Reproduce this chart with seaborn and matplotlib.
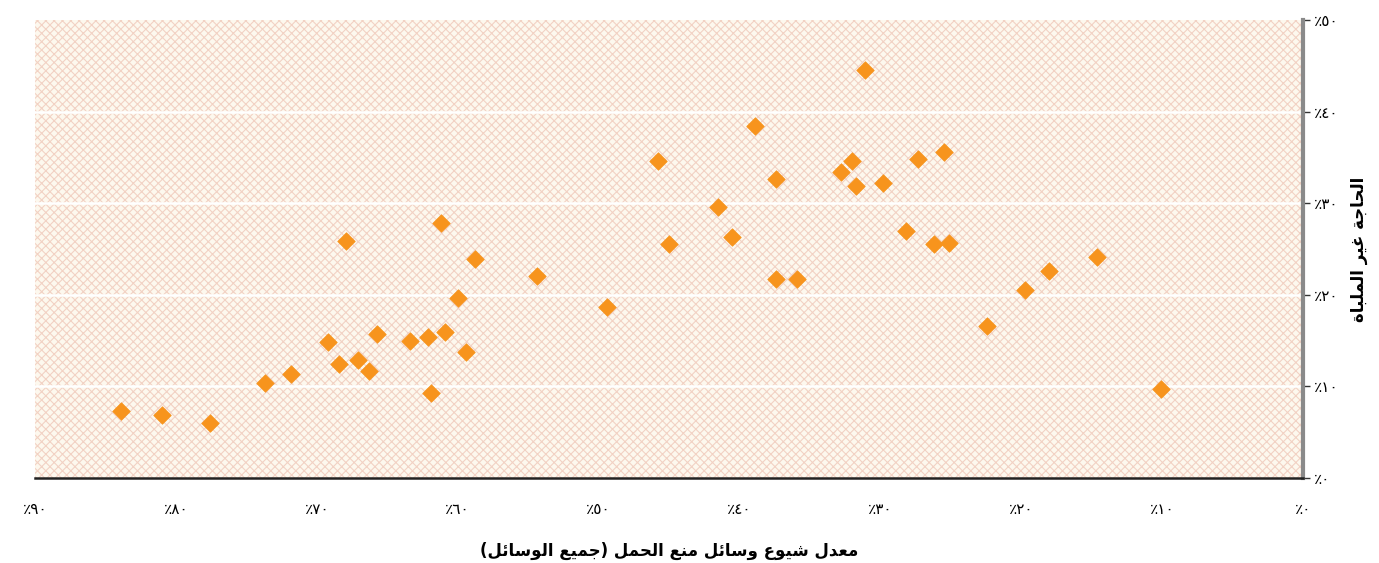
import matplotlib
matplotlib.use("Agg")
import matplotlib.pyplot as plt
import seaborn as sns
import pandas as pd

# contraceptive prevalence (all methods), %
prevalence = [83.9, 81.0, 77.6, 73.7, 71.8, 69.2, 68.4, 67.9, 67.1, 66.3,
              65.7, 63.4, 62.1, 61.9, 61.2, 60.9, 60.0, 59.4, 58.8, 54.4,
              49.4, 45.8, 45.0, 41.5, 40.5, 38.9, 37.4, 37.4, 35.9, 32.8,
              32.0, 31.7, 31.1, 29.8, 28.2, 27.3, 26.2, 25.5, 25.1, 22.4,
              19.7, 18.0, 14.6, 10.1]
# unmet need, %
unmet_need = [7.3, 6.9, 6.0, 10.4, 11.4, 14.8, 12.4, 25.9, 12.9, 11.7,
              15.7, 15.0, 15.4, 9.3, 27.8, 15.9, 19.6, 13.7, 23.9, 22.1,
              18.7, 34.6, 25.5, 29.6, 26.3, 38.4, 32.6, 21.7, 21.7, 33.4,
              34.6, 31.9, 44.5, 32.2, 27.0, 34.8, 25.5, 35.6, 25.7, 16.6,
              20.5, 22.6, 24.1, 9.7]

x_ticks = [90, 80, 70, 60, 50, 40, 30, 20, 10, 0]
y_ticks = [0, 10, 20, 30, 40, 50]

XLABEL = "معدل شيوع وسائل منع الحمل (جميع الوسائل)"
YLABEL = "الحاجة غير الملباة"

# Arabic presentation forms: isolated, final, initial, medial
FORMS = {
    "ا": ("\uFE8D", "\uFE8E"),
    "ب": ("\uFE8F", "\uFE90", "\uFE91", "\uFE92"),
    "ة": ("\uFE93", "\uFE94"),
    "ج": ("\uFE9D", "\uFE9E", "\uFE9F", "\uFEA0"),
    "ح": ("\uFEA1", "\uFEA2", "\uFEA3", "\uFEA4"),
    "د": ("\uFEA9", "\uFEAA"),
    "ر": ("\uFEAD", "\uFEAE"),
    "س": ("\uFEB1", "\uFEB2", "\uFEB3", "\uFEB4"),
    "ش": ("\uFEB5", "\uFEB6", "\uFEB7", "\uFEB8"),
    "ع": ("\uFEC9", "\uFECA", "\uFECB", "\uFECC"),
    "غ": ("\uFECD", "\uFECE", "\uFECF", "\uFED0"),
    "ل": ("\uFEDD", "\uFEDE", "\uFEDF", "\uFEE0"),
    "م": ("\uFEE1", "\uFEE2", "\uFEE3", "\uFEE4"),
    "ن": ("\uFEE5", "\uFEE6", "\uFEE7", "\uFEE8"),
    "و": ("\uFEED", "\uFEEE"),
    "ي": ("\uFEF1", "\uFEF2", "\uFEF3", "\uFEF4"),
    "ئ": ("\uFE89", "\uFE8A", "\uFE8B", "\uFE8C"),
}
MIRROR = {"(": ")", ")": "("}


def shape(text):
    out = []
    for i, ch in enumerate(text):
        if ch not in FORMS:
            out.append(MIRROR.get(ch, ch))
            continue
        prev = text[i - 1] if i > 0 else ""
        nxt = text[i + 1] if i + 1 < len(text) else ""
        f = FORMS[ch]
        j_prev = prev in FORMS and len(FORMS[prev]) == 4
        j_next = len(f) == 4 and nxt in FORMS
        if j_prev and j_next:
            out.append(f[3])
        elif j_prev:
            out.append(f[1])
        elif j_next:
            out.append(f[2])
        else:
            out.append(f[0])
    return "".join(out[::-1])


def ar_pct(v):
    digits = "".join(chr(0x0660 + int(d)) for d in str(v))
    return "\u066A" + digits


df = pd.DataFrame({"prevalence": prevalence, "unmet": unmet_need})

sns.set_style("white")
plt.rcParams["font.family"] = ["DejaVu Sans"]
plt.rcParams["hatch.linewidth"] = 0.8

fig = plt.figure(figsize=(13.79, 5.63), dpi=100)
ax = fig.add_axes([0.0254, 0.151, 0.9195, 0.8135])

ax.patch.set_facecolor("#fdf8ee")
ax.patch.set_edgecolor("#f2d2c4")
ax.patch.set_hatch("xxxx")
ax.patch.set_linewidth(0)

for y in y_ticks[1:-1]:
    ax.axhline(y, color="white", lw=1.8, zorder=1)

sns.scatterplot(data=df, x="prevalence", y="unmet", marker="D", s=80,
                color="#f7941d", edgecolor="#f7941d", linewidth=0.5,
                ax=ax, zorder=3)

ax.set_xlim(90, 0)
ax.set_ylim(0, 50)
ax.set_xticks(x_ticks)
ax.set_xticklabels([ar_pct(v) for v in x_ticks], fontsize=11, color="black")
ax.yaxis.tick_right()
ax.set_yticks(y_ticks)
ax.set_yticklabels([ar_pct(v) for v in y_ticks], fontsize=11, color="black")

ax.tick_params(axis="x", direction="out", length=6, width=1, color="#333333", pad=11)
ax.tick_params(axis="y", direction="out", length=5, width=1, color="#333333", pad=3)

for side in ["top", "left"]:
    ax.spines[side].set_visible(False)
ax.spines["right"].set_color("#8a8a8a")
ax.spines["right"].set_linewidth(3)
ax.spines["bottom"].set_color("#222222")
ax.spines["bottom"].set_linewidth(1.8)

ax.set_xlabel(shape(XLABEL), fontsize=12, fontweight="bold", color="black", labelpad=18)
ax.yaxis.set_label_position("right")
ax.set_ylabel(shape(YLABEL), fontsize=12, fontweight="bold", color="black",
              rotation=90, labelpad=8)

fig.savefig("out.png", dpi=100)
